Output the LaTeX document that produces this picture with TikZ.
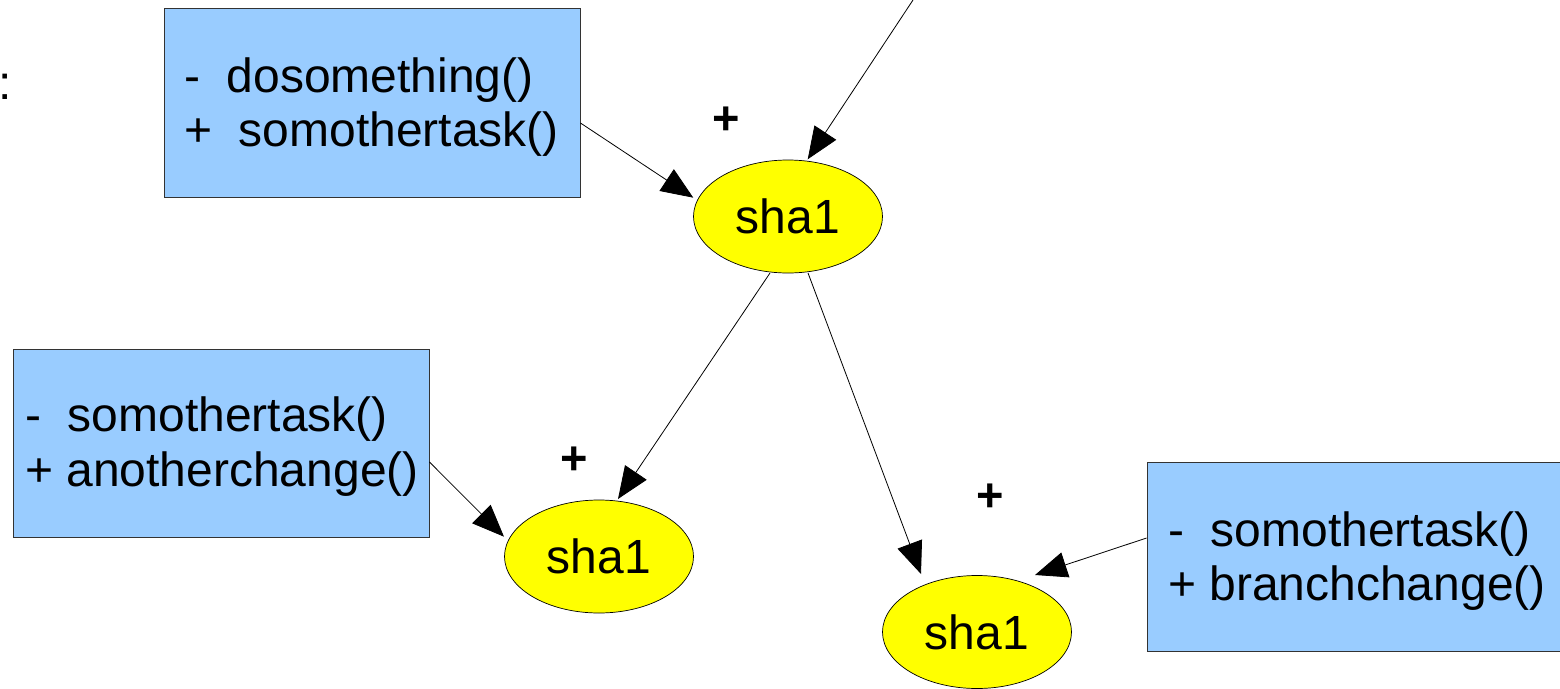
\documentclass[tikz,border=0pt]{standalone}
\usepackage{fontspec}
\setmainfont{Liberation Sans}
\usetikzlibrary{arrows.meta,shapes.geometric}
\definecolor{boxblue}{HTML}{99CCFF}
\definecolor{shayellow}{HTML}{FFFF00}
\begin{document}
\begin{tikzpicture}[x=1pt,y=-1pt,
  classbox/.style={draw=black!80,line width=0.9pt,fill=boxblue,rectangle,inner sep=0pt,minimum width=#1},
  shanode/.style={draw=black,line width=0.7pt,fill=shayellow,ellipse,inner sep=0pt,minimum width=189pt,minimum height=113pt,font=\fontsize{48}{54}\selectfont},
  boxtext/.style={anchor=base west,inner sep=0pt,font=\fontsize{48}{54}\selectfont},
  plusmark/.style={inner sep=0pt,font=\fontsize{47}{54}\selectfont\bfseries},
  conn/.style={line width=0.8pt,-{Triangle[length=32pt,width=26pt]}}]
\useasboundingbox (0,0) rectangle (1560,688);
% boxes
\node[classbox=416pt,minimum height=189pt] (b1) at (372,102.5) {};
\node[classbox=416pt,minimum height=188pt] (b2) at (221,443) {};
\node[classbox=420pt,minimum height=189pt] (b3) at (1357,556.5) {};
% box texts
\node[boxtext] (t11) at (184,92.7) {-\ \ dosomething()};
\node[boxtext] (t12) at (184,146.7) {+\ \ somothertask()};
\node[boxtext] (t21) at (25,431.7) {-\ \ somothertask()};
\node[boxtext] (t22) at (25,486) {+ anotherchange()};
\node[boxtext] (t31) at (1168,546.7) {-\ \ somothertask()};
\node[boxtext] (t32) at (1168,600) {+ branchchange()};
% colon at left edge
\node[boxtext] (colon) at (-1.5,99) {:};
% ellipses
\node[shanode] (e1) at (788,216.5) {sha1};
\node[shanode] (e2) at (599,556.5) {sha1};
\node[shanode] (e3) at (977,632) {sha1};
% plus marks
\node[plusmark] (p1) at (726,121) {+};
\node[plusmark] (p2) at (574,461) {+};
\node[plusmark] (p3) at (990,498) {+};
% connectors
\coordinate (top) at (913,0);
\draw[conn] (top) -- ([shift={(19.7,-57.2)}]e1.center);
\draw[conn] ([shift={(0,20.5)}]b1.east) -- ([shift={(-94.7,-18.8)}]e1.center);
\draw[conn] ([shift={(-18,56.5)}]e1.center) -- ([shift={(19,-57.5)}]e2.center);
\draw[conn] ([shift={(20,56.5)}]e1.center) -- ([shift={(-56,-58)}]e3.center);
\draw[conn] ([shift={(0,19)}]b2.east) -- ([shift={(-95,-19.8)}]e2.center);
\draw[conn] ([shift={(0,-18.5)}]b3.west) -- ([shift={(58,-57)}]e3.center);
\end{tikzpicture}
\end{document}
